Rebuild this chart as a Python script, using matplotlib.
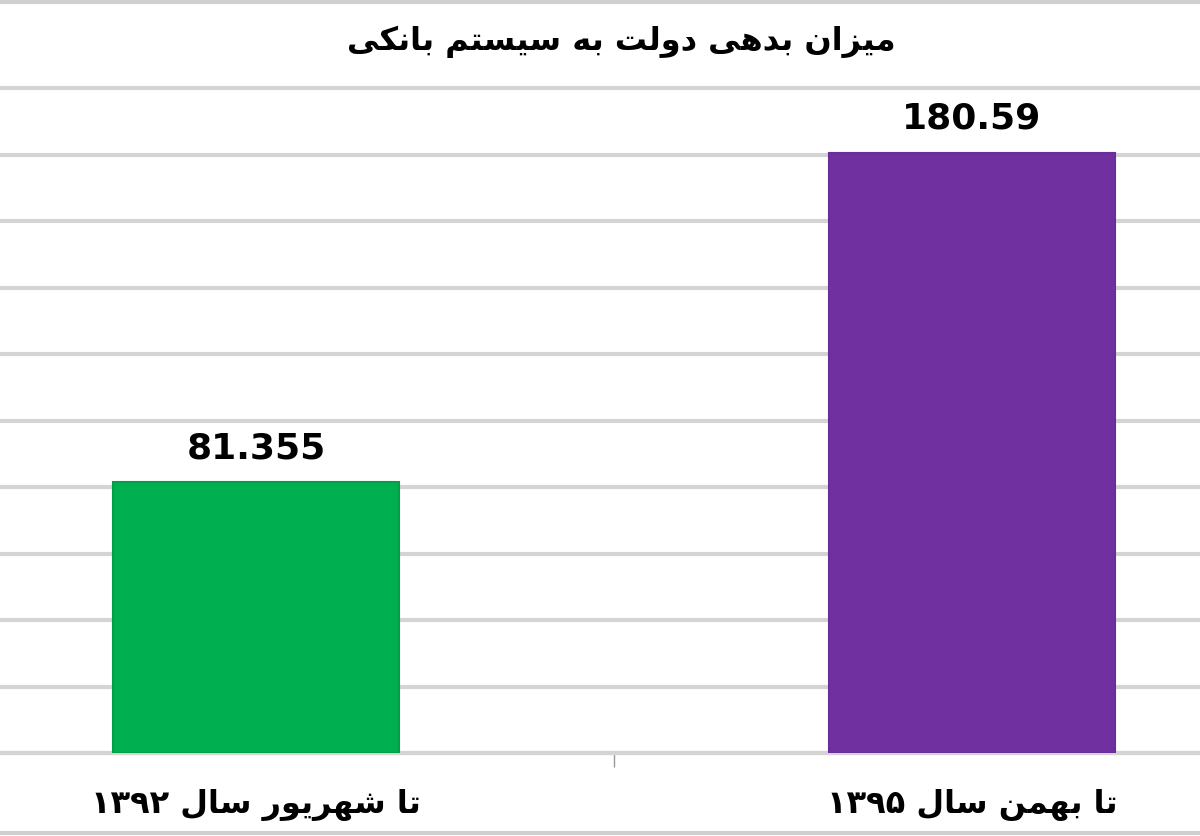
import matplotlib
matplotlib.use("Agg")
import matplotlib.pyplot as plt
from matplotlib.lines import Line2D

# data
title = "میزان بدهی دولت به سیستم بانکی"
categories = ["تا شهریور سال ۱۳۹۲", "تا بهمن سال ۱۳۹۵"]
values = [81.355, 180.59]
value_labels = ["81.355", "180.59"]
colors = ["#00B050", "#7030A0"]
edges = ["#00a046", "#6a2e9a"]

# simple arabic/persian shaping (matplotlib has no complex text layout)
FORMS = {
    "ا": ("\uFE8D", "\uFE8E", None, None),
    "ب": ("\uFE8F", "\uFE90", "\uFE91", "\uFE92"),
    "ت": ("\uFE95", "\uFE96", "\uFE97", "\uFE98"),
    "د": ("\uFEA9", "\uFEAA", None, None),
    "ر": ("\uFEAD", "\uFEAE", None, None),
    "ز": ("\uFEAF", "\uFEB0", None, None),
    "س": ("\uFEB1", "\uFEB2", "\uFEB3", "\uFEB4"),
    "ش": ("\uFEB5", "\uFEB6", "\uFEB7", "\uFEB8"),
    "ل": ("\uFEDD", "\uFEDE", "\uFEDF", "\uFEE0"),
    "م": ("\uFEE1", "\uFEE2", "\uFEE3", "\uFEE4"),
    "ن": ("\uFEE5", "\uFEE6", "\uFEE7", "\uFEE8"),
    "ه": ("\uFEE9", "\uFEEA", "\uFEEB", "\uFEEC"),
    "و": ("\uFEED", "\uFEEE", None, None),
    "ی": ("\uFBFC", "\uFBFD", "\uFBFE", "\uFBFF"),
    "ک": ("\uFB8E", "\uFB8F", "\uFB90", "\uFB91"),
}


def dual(c):
    return c in FORMS and FORMS[c][2] is not None


def shape_word(w):
    out = []
    for i, c in enumerate(w):
        if c not in FORMS:
            out.append(c)
            continue
        prev = w[i - 1] if i > 0 else ""
        nxt = w[i + 1] if i + 1 < len(w) else ""
        cp = dual(prev)
        cn = dual(c) and nxt in FORMS
        iso, fin, ini, med = FORMS[c]
        if cp and cn:
            out.append(med)
        elif cp:
            out.append(fin)
        elif cn:
            out.append(ini)
        else:
            out.append(iso)
    return out


def rtl(s):
    words = s.split(" ")
    vis = []
    for w in reversed(words):
        if w and w[0] in "۰۱۲۳۴۵۶۷۸۹":
            vis.append(w)
        else:
            vis.append("".join(reversed(shape_word(w))))
    return " ".join(vis)


plt.rcParams['font.family'] = ['DejaVu Sans']

fig = plt.figure(figsize=(12, 8.36), dpi=100)
ax = fig.add_axes([-102 / 1200, 1 - 753 / 836, 1432 / 1200, 665 / 836])

x = list(range(len(categories)))
ax.bar(x, values, width=0.4, color=colors, edgecolor=edges, linewidth=1.5, zorder=3)
ax.set_xlim(-0.5, 1.5)
ax.set_ylim(0, 200)
ax.set_yticks(range(0, 201, 20))
ax.yaxis.grid(True, color="#d4d4d4", linewidth=3, zorder=0)
for gl in ax.get_ygridlines():
    gl.set_clip_on(False)
ax.tick_params(axis="y", length=0, labelleft=False)
for s in ["left", "right", "top"]:
    ax.spines[s].set_visible(False)
ax.spines["bottom"].set_color("#d4d4d4")
ax.spines["bottom"].set_linewidth(3)

ax.set_xticks(x)
ax.set_xticklabels([rtl(c) for c in categories], fontsize=23, fontweight="bold")
ax.tick_params(axis="x", which="major", length=0, pad=26)
ax.set_xticks([0.5], minor=True)
ax.tick_params(axis="x", which="minor", length=10, color="#999999", width=1)

for xi, v, lab in zip(x, values, value_labels):
    ax.annotate(lab, (xi, v), xytext=(0, 12), textcoords="offset points",
                ha="center", va="bottom", fontsize=26, fontweight="bold", zorder=4)

fig.text(0.518, 1 - 42 / 836, rtl(title), ha="center", va="center",
         fontsize=23, fontweight="bold")

# frame lines at top and bottom of picture
fig.add_artist(Line2D([0, 1], [1 - 2 / 836, 1 - 2 / 836], color="#cfcfcf", linewidth=3))
fig.add_artist(Line2D([0, 1], [3 / 836, 3 / 836], color="#cfcfcf", linewidth=3))

fig.savefig("out.png", dpi=100)
